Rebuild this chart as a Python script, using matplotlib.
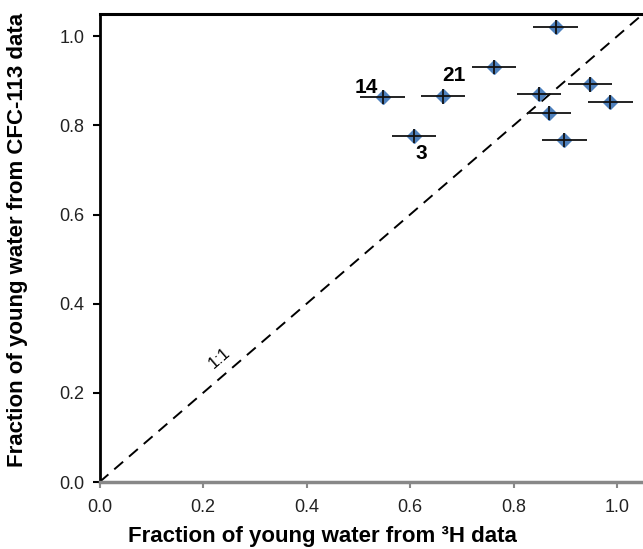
import numpy as np
import matplotlib
matplotlib.use('Agg')
import matplotlib.pyplot as plt

plt.rcParams['font.family'] = ['Liberation Sans', 'DejaVu Sans']

# fraction of young water, 3H (x) vs CFC-113 (y)
frac_3h = [0.881, 0.762, 0.664, 0.547, 0.608, 0.849, 0.948, 0.987, 0.868, 0.898]
frac_cfc = [1.021, 0.931, 0.865, 0.864, 0.776, 0.871, 0.892, 0.852, 0.828, 0.767]
err_3h = [0.043] * 10
err_cfc = [0.016] * 10

labels = ['14', '21', '3']
label_x = [0.515, 0.684, 0.621]
label_y = [0.886, 0.913, 0.738]

fig = plt.figure(figsize=(6.43, 5.49), dpi=100)
ax = fig.add_axes([0.1548, 0.122, 0.8452, 0.8525])

# 1:1 line
ax.plot([0, 1.1], [0, 1.1], ls=(0, (6, 4)), color='black', lw=1.4, zorder=1)
ax.text(0.232, 0.278, '1:1', rotation=40.7, ha='center', va='center', fontsize=12)

# markers below, error bars drawn over them
ax.plot(frac_3h, frac_cfc, 'D', ms=7, mfc='#4F81BD', mec='#4F81BD', zorder=2)
ax.errorbar(frac_3h, frac_cfc, xerr=err_3h, yerr=err_cfc, fmt='none',
            ecolor='#111111', elinewidth=1.3, capsize=0, zorder=3)

for lab, lx, ly in zip(labels, label_x, label_y):
    ax.text(lx, ly, lab, ha='center', va='center', fontsize=15, fontweight='bold')

ax.set_xlim(0, 1.05)
ax.set_ylim(0, 1.05)
ax.set_xticks([0.0, 0.2, 0.4, 0.6, 0.8, 1.0])
ax.set_yticks([0.0, 0.2, 0.4, 0.6, 0.8, 1.0])
ax.set_xticklabels(['0.0', '0.2', '0.4', '0.6', '0.8', '1.0'])
ax.set_yticklabels(['0.0', '0.2', '0.4', '0.6', '0.8', '1.0'])

ax.spines['left'].set_linewidth(2)
ax.spines['top'].set_linewidth(2.2)
ax.spines['bottom'].set_color('#888888')
ax.spines['bottom'].set_linewidth(2.5)
ax.spines['right'].set_visible(False)

ax.tick_params(axis='y', direction='out', length=5, width=1.5, labelsize=13, pad=6,
               labelcolor='#222222')
ax.tick_params(axis='x', direction='out', length=4, width=1.5, color='#888888',
               labelsize=13, pad=8, labelcolor='#222222')

ax.set_xlabel('Fraction of young water from \u00b3H data', fontsize=16,
              fontweight='bold')
ax.set_ylabel('Fraction of young water from CFC-113 data', fontsize=16,
              fontweight='bold')
ax.xaxis.set_label_coords(0.411, -0.094)
ax.yaxis.set_label_coords(-0.132, 0.517)

plt.savefig('out.png', dpi=100)
